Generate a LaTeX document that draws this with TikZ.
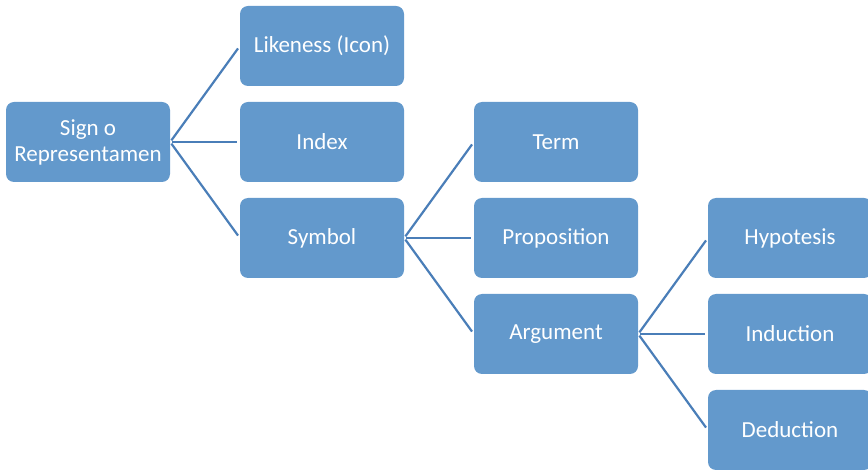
\documentclass[tikz,border=0pt]{standalone}
\usepackage{fontspec}
\setmainfont{Carlito}
\definecolor{boxblue}{RGB}{99,153,204}
\definecolor{linkblue}{RGB}{74,126,184}
\begin{document}
\begin{tikzpicture}[x=1pt,y=-1pt,
  box/.style={fill=boxblue, rounded corners=8pt, minimum width=164pt, minimum height=80pt,
    inner sep=0pt, text=white, font=\fontsize{23}{26}\selectfont, align=center},
  link/.style={draw=linkblue, line width=2.2pt, shorten <=2pt, shorten >=3pt}]
\useasboundingbox (0,0) rectangle (868,470);
\begin{scope}
\clip (0,0) rectangle (868,470);
% first level
\node[box] (sign) at (88,142) {Sign o\\Representamen};
% second level
\node[box] (icon) at (322,46) {Likeness (Icon)};
\node[box] (index) at (322,142) {Index};
\node[box] (symbol) at (322,238) {Symbol};
% third level
\node[box] (term) at (556,142) {Term};
\node[box] (prop) at (556,238) {Proposition};
\node[box] (arg) at (556,334) {Argument};
% fourth level
\node[box] (hyp) at (790,238) {Hypotesis};
\node[box] (ind) at (790,334) {Induction};
\node[box] (ded) at (790,430) {Deduction};
\end{scope}
% connectors
\foreach \c in {icon,index,symbol} \draw[link] (sign.east) -- (\c.west);
\foreach \c in {term,prop,arg} \draw[link] (symbol.east) -- (\c.west);
\foreach \c in {hyp,ind,ded} \draw[link] (arg.east) -- (\c.west);
\end{tikzpicture}
\end{document}
